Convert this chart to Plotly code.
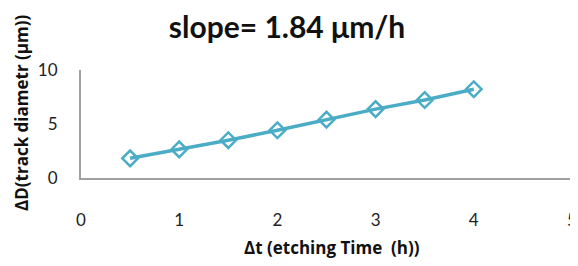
import plotly.graph_objects as go

etch_time_h = [0.5, 1.0, 1.5, 2.0, 2.5, 3.0, 3.5, 4.0]
track_diam_um = [1.82, 2.65, 3.5, 4.42, 5.4, 6.38, 7.22, 8.22]
x_ticks = [0, 1, 2, 3, 4, 5]
y_ticks = [0, 5, 10]

color = "#4BACC6"
font_family = "Lato, 'Open Sans', sans-serif"
title_family = "'Open Sans', Lato, sans-serif"

# the page body has an 8px default margin; lay out in reference pixels minus 8
OFF = 8
W, H = 578 - OFF, 266 - OFF
L, T = 81 - OFF, 70 - OFF
B = H - (178 - OFF)
X5 = 572  # page x of tick 5
DOM_END = (X5 - 81) / (W - L)

fig = go.Figure()
fig.add_trace(go.Scatter(
    x=etch_time_h, y=track_diam_um, mode="lines+markers",
    line=dict(color=color, width=3.5),
    marker=dict(symbol="diamond-open", size=12, color=color, line=dict(width=2.5, color=color)),
    showlegend=False, cliponaxis=False,
))

fig.update_layout(
    width=W, height=H,
    margin=dict(l=L, r=0, t=T, b=B, autoexpand=False),
    paper_bgcolor="white", plot_bgcolor="white",
    font=dict(family=font_family, color="#222222", size=17),
    title=dict(text="<b>slope= 1.84 μm/h</b>", x=(287 - OFF) / W, xanchor="center",
               y=1 - (27 - OFF) / H, yanchor="middle", font=dict(size=30, color="#111111")),
    xaxis=dict(range=[0, 5.0], tickvals=x_ticks, showgrid=False, zeroline=False,
               showline=True, linecolor="#A0A0A0", linewidth=2, ticks="",
               ticklabelstandoff=26, tickfont=dict(size=17), automargin=False,
               ticklabeloverflow="allow", domain=[0, DOM_END]),
    yaxis=dict(range=[0, 10], tickvals=y_ticks, showgrid=False, zeroline=False,
               showline=True, linecolor="#A0A0A0", linewidth=2, ticks="",
               ticklabelstandoff=18, tickfont=dict(size=17), automargin=False),
    shapes=[dict(type="line", xref="paper", yref="paper", x0=DOM_END, x1=1,
                 y0=0, y1=0, line=dict(color="#A0A0A0", width=2))],
    annotations=[
        dict(text="<b>Δt (etching Time  (h))</b>", xref="paper", yref="paper",
             x=(332 - 81) / (W - L), y=-(247 - 178) / (H - T - B), xanchor="center",
             yanchor="middle", showarrow=False,
             font=dict(size=17, color="#111111", family=title_family)),
        dict(text="<b>ΔD(track diametr (μm))</b>", xref="paper", yref="paper",
             x=-(81 - 21) / (W - L), y=(178 - 113) / (H - T - B), xanchor="center",
             yanchor="middle", textangle=-90, showarrow=False,
             font=dict(size=17, color="#111111", family=title_family)),
    ],
)

fig.write_html("out.html")
